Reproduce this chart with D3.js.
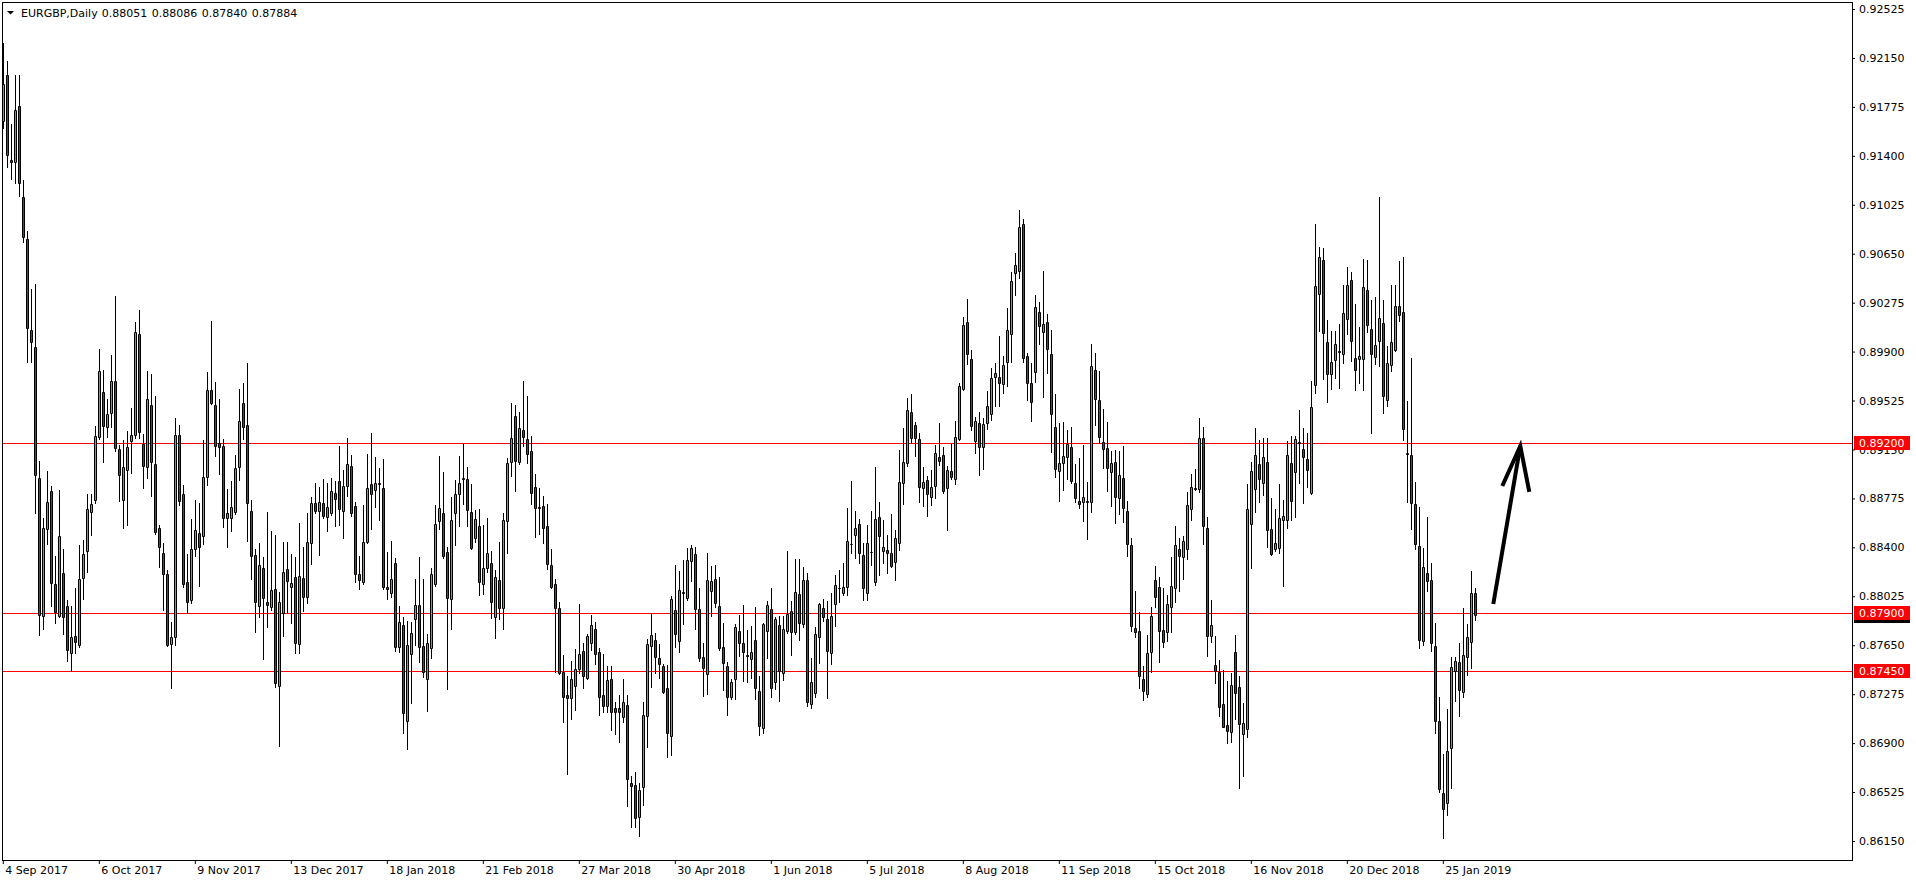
<!DOCTYPE html>
<html><head><meta charset="utf-8">
<script src="https://cdn.jsdelivr.net/npm/d3@7"></script>
<style>html,body{margin:0;padding:0;background:#fff;overflow:hidden}svg{display:block}text{font-family:"DejaVu Sans",sans-serif;font-size:11px}</style>
</head><body>
<svg id="c" width="1916" height="884"></svg>
<script>
const symbol = "EURGBP,Daily";
const lastOHLC = ["0.88051","0.88086","0.87840","0.87884"];
const open = [.91670,.92022,.91366,.91349,.91779,.91082,.90764,.90063,.89933,.88931,.87875,.88542,.88829,.88118,.87875,.88203,.87953,.87588,.87721,.87649,.88169,.88371,.88668,.88760,.89249,.89588,.89321,.89431,.89673,.89150,.88764,.88996,.89212,.89263,.90032,.89195,.89017,.89489,.89037,.88545,.88354,.88193,.87659,.87711,.89259,.88808,.88135,.87994,.88384,.88508,.88490,.88942,.89606,.89491,.89197,.89177,.88628,.88628,.88668,.89013,.89504,.89338,.88679,.88342,.87953,.88239,.87979,.87946,.88079,.87340,.87895,.88232,.88099,.88176,.87657,.88163,.88017,.88431,.88737,.88681,.88737,.88635,.88666,.88814,.88911,.88681,.88870,.89023,.88717,.88193,.88137,.88439,.88886,.88840,.88893,.88852,.88094,.88048,.88278,.87639,.87805,.87072,.87581,.87849,.87959,.87645,.87389,.87627,.88120,.88605,.88661,.88362,.88002,.88661,.88807,.88932,.88922,.88669,.88470,.88567,.88120,.88245,.88278,.87869,.88150,.87938,.88605,.89057,.89409,.89057,.89300,.89228,.89139,.88860,.88707,.88717,.88564,.88265,.88120,.87938,.87448,.87269,.87249,.87341,.87466,.87606,.87402,.87665,.87775,.87596,.87269,.87187,.87392,.87167,.87167,.87098,.87192,.86592,.86579,.86332,.86561,.87110,.87644,.87690,.87550,.87491,.87320,.86957,.87920,.87685,.88048,.88015,.88298,.88349,.87928,.87563,.87427,.88068,.88158,.87951,.87634,.87491,.87251,.87389,.87759,.87670,.87575,.87547,.87690,.87299,.87013,.87762,.87928,.87371,.87805,.87435,.87759,.87912,.87754,.88043,.87810,.88150,.87200,.87287,.87716,.87933,.87851,.87588,.87964,.88090,.88048,.88099,.88426,.88495,.88576,.88341,.88053,.88367,.88137,.88630,.88375,.88380,.88354,.88290,.88431,.88896,.89049,.89434,.89337,.89230,.88857,.88916,.88788,.88873,.89095,.89108,.88852,.88985,.88921,.89228,.89613,.90124,.89843,.89217,.89350,.89171,.89350,.89419,.89708,.89703,.89649,.89823,.90032,.90499,.90520,.90877,.89866,.89662,.89741,.90201,.90053,.90124,.89881,.89325,.88988,.89049,.89095,.89166,.88891,.88758,.88750,.88753,.88745,.89759,.89529,.89205,.89159,.88980,.89051,.88776,.88929,.88679,.88418,.87780,.87759,.87391,.87274,.87596,.88150,.88094,.87767,.87754,.87940,.88086,.88387,.88324,.88385,.88691,.88852,.88845,.89240,.88546,.87721,.87499,.87448,.87200,.87039,.86983,.87601,.87333,.86967,.87008,.88579,.88845,.89039,.88891,.89057,.88543,.88386,.88393,.88609,.88606,.89047,.88975,.89207,.89155,.89080,.88818,.89642,.90339,.90604,.89972,.89727,.89832,.89907,.89881,.90146,.90447,.89851,.89842,.89842,.90375,.90070,.89858,.89982,.90120,.89531,.89796,.89914,.90250,.90201,.89122,.89106,.88730,.88409,.87683,.88200,.88148,.87641,.87072,.86516,.86441,.86866,.87454,.87520,.87291,.87562,.87677,.88051];
const high = [.92261,.92125,.91643,.92022,.92022,.91212,.90822,.90381,.90415,.89065,.88627,.88983,.88873,.88336,.88842,.88388,.87998,.87953,.88090,.88415,.88459,.88808,.88808,.89331,.89919,.89759,.89533,.89875,.90323,.89184,.89225,.89290,.89468,.90128,.90220,.89270,.89748,.89725,.89557,.88569,.88432,.88227,.87827,.89389,.89338,.88877,.88347,.88620,.88764,.88737,.89223,.89746,.90134,.89665,.89537,.89230,.88847,.88909,.89108,.89613,.89662,.89810,.88763,.88388,.88431,.88329,.88668,.88525,.88495,.88056,.88439,.88439,.88347,.88324,.88584,.88405,.88661,.88783,.88896,.88865,.88924,.88896,.88929,.88909,.89177,.88993,.89235,.89108,.88745,.88334,.88725,.89115,.89274,.89090,.89006,.89077,.88362,.88449,.88321,.87951,.87864,.87836,.87831,.88158,.88329,.88158,.87734,.88245,.88725,.89100,.88980,.88401,.88784,.88916,.89100,.89192,.89014,.88886,.88687,.88692,.88572,.88623,.88372,.88227,.88444,.88666,.89082,.89504,.89491,.89435,.89675,.89560,.89254,.88962,.88853,.88794,.88733,.88388,.88158,.87979,.87576,.87415,.87532,.87622,.87966,.87670,.87737,.87882,.87831,.87632,.87583,.87491,.87491,.87218,.87269,.87392,.87269,.86648,.86681,.86592,.87218,.87698,.87895,.87741,.87660,.87506,.87499,.88030,.88265,.88221,.88303,.88398,.88418,.88405,.88086,.87670,.88359,.88257,.88265,.88176,.87818,.87524,.87389,.87813,.87882,.87958,.87767,.87798,.87946,.87414,.87823,.87989,.88086,.87869,.87874,.87874,.88372,.87989,.88311,.88311,.88252,.88206,.87555,.87787,.87976,.88004,.87989,.88053,.88188,.88226,.88278,.88699,.88908,.88681,.88615,.88431,.88571,.88679,.89018,.88745,.88610,.88495,.88656,.88533,.89146,.89312,.89542,.89575,.89358,.89274,.89013,.88949,.88993,.89184,.89350,.89166,.89023,.89192,.89368,.89662,.90167,.90303,.89912,.89401,.89440,.89389,.89598,.89772,.89815,.90022,.89869,.90231,.90512,.90653,.90985,.90913,.89892,.89810,.90333,.90277,.90517,.90188,.90065,.89575,.89355,.89358,.89299,.89320,.89039,.89082,.89184,.88898,.89958,.89887,.89751,.89460,.89358,.89138,.89146,.89138,.89177,.88755,.88469,.88066,.87902,.87491,.87728,.87940,.88257,.88175,.88086,.88035,.88324,.88566,.88469,.88487,.88822,.88962,.89000,.89394,.89325,.88635,.87997,.87723,.87537,.87460,.87379,.87440,.87728,.87417,.87210,.88885,.89057,.89317,.89223,.89235,.89237,.88779,.88691,.88883,.88762,.89214,.89253,.89253,.89456,.89318,.89279,.89678,.90878,.90698,.90692,.90142,.90054,.90054,.90113,.90407,.90545,.90512,.90267,.90087,.90610,.90604,.90299,.90322,.91084,.90293,.89940,.90414,.90414,.90594,.90626,.89524,.89851,.88900,.88707,.88393,.88632,.88282,.87824,.87252,.86817,.87160,.87562,.87562,.87667,.87935,.87814,.88216,.88086];
const low = [.91612,.91314,.91219,.91191,.91092,.90740,.89817,.89817,.88661,.87731,.87776,.88425,.87953,.87824,.87865,.87738,.87526,.87454,.87588,.87636,.88005,.88210,.88494,.88740,.89232,.89051,.89246,.89321,.89140,.88754,.88552,.88569,.88969,.89236,.89236,.88853,.88935,.88791,.88501,.88251,.87919,.87642,.87321,.87653,.88723,.88097,.87899,.87971,.88330,.88107,.88426,.88878,.89499,.89103,.88962,.88559,.88405,.88528,.88656,.88916,.89230,.88451,.88158,.87754,.87869,.87545,.87787,.87920,.87333,.86881,.87723,.87900,.87818,.87593,.87593,.87912,.87971,.88273,.88666,.88342,.88628,.88528,.88648,.88564,.88571,.88474,.88796,.88643,.88137,.88078,.88119,.88431,.88541,.88712,.88610,.88081,.88004,.88022,.87609,.87601,.86980,.86855,.87210,.87652,.87525,.87410,.87149,.87555,.88107,.88541,.88321,.87313,.87775,.88418,.88567,.88733,.88567,.88388,.88444,.88035,.88040,.88214,.87857,.87708,.87851,.87775,.88360,.88947,.88832,.89037,.89177,.89049,.88733,.88482,.88503,.88436,.88232,.88086,.87443,.87430,.87065,.86661,.87083,.87154,.87440,.87325,.87392,.87614,.87504,.87116,.87141,.87141,.87001,.86968,.86912,.87060,.86421,.86260,.86260,.86191,.86426,.86873,.87333,.87440,.87397,.87287,.86796,.86809,.87639,.87601,.87813,.87997,.88145,.87774,.87529,.87261,.87277,.87874,.87946,.87614,.87307,.87116,.87236,.87238,.87568,.87379,.87371,.87397,.87238,.86962,.86975,.87550,.87251,.87315,.87223,.87384,.87746,.87575,.87734,.87690,.87787,.87187,.87172,.87256,.87517,.87838,.87248,.87506,.87800,.87980,.88035,.88035,.88354,.88321,.88283,.87997,.87997,.88265,.88112,.88188,.88283,.88201,.88247,.88150,.88380,.88732,.89023,.89197,.89100,.88750,.88719,.88643,.88724,.88776,.89031,.88819,.88533,.88921,.88885,.89222,.89606,.89802,.89299,.89120,.88954,.89000,.89304,.89376,.89483,.89483,.89585,.89636,.89818,.90333,.90461,.89823,.89529,.89371,.89664,.89955,.89555,.89738,.89128,.88942,.88758,.88839,.88921,.88896,.88745,.88699,.88604,.88464,.88673,.89337,.89197,.89005,.88834,.88719,.88584,.88656,.88592,.88336,.87762,.87716,.87320,.87230,.87256,.87442,.87940,.87519,.87634,.87685,.87749,.87979,.88068,.88155,.88308,.88610,.88842,.88822,.88426,.87568,.87672,.87358,.87110,.87021,.86898,.86911,.87085,.86554,.86651,.86944,.88239,.88668,.88745,.88801,.88403,.88340,.88370,.88360,.88102,.88550,.88606,.88632,.88893,.88740,.88861,.88805,.89580,.90054,.89688,.89515,.89613,.89694,.89623,.89809,.90031,.89825,.89603,.89662,.89606,.90048,.89276,.89802,.89786,.89433,.89482,.89750,.89907,.90136,.89220,.88746,.88543,.88386,.87628,.87651,.88069,.87602,.86974,.86523,.86173,.86353,.86555,.87226,.87105,.87252,.87422,.87477,.87840];
const close = [.91947,.91403,.91349,.91749,.91195,.90781,.90077,.89971,.88955,.87878,.88545,.88747,.88124,.87902,.88487,.87865,.87612,.87711,.87673,.88155,.88347,.88692,.88736,.89253,.89748,.89331,.89424,.89673,.89160,.88955,.89013,.89167,.89263,.90049,.89283,.89024,.89533,.89054,.88514,.88405,.88196,.87653,.87711,.89259,.88757,.88118,.87981,.88384,.88531,.88405,.88937,.89606,.89504,.89179,.89172,.88628,.88661,.88707,.89006,.89368,.89320,.88737,.88336,.87979,.88262,.88010,.87958,.88071,.87358,.87979,.88209,.88145,.88124,.87665,.88181,.88017,.88439,.88737,.88681,.88750,.88643,.88707,.88832,.88768,.88691,.88870,.89039,.88666,.88193,.88150,.88439,.88852,.88806,.88891,.88888,.88099,.88079,.88155,.87639,.87826,.87134,.87649,.87742,.87959,.87639,.87448,.87665,.88194,.88577,.88699,.88334,.88015,.88610,.88807,.88891,.88927,.88687,.88393,.88615,.88138,.88240,.88355,.87984,.88176,.87933,.88610,.89044,.89236,.89065,.89312,.89249,.89116,.88814,.88699,.88699,.88546,.88270,.88099,.87933,.87440,.87256,.87244,.87392,.87468,.87581,.87417,.87721,.87805,.87581,.87256,.87187,.87384,.87141,.87141,.87141,.87213,.86623,.86574,.86324,.86541,.87116,.87660,.87729,.87563,.87504,.87289,.86975,.88004,.87734,.88073,.88055,.88303,.88393,.87928,.87555,.87473,.88150,.88145,.87971,.87626,.87517,.87256,.87366,.87792,.87670,.87601,.87568,.87596,.87320,.87034,.87810,.87958,.87320,.87851,.87455,.87772,.87889,.87749,.88055,.87818,.88150,.87218,.87371,.87734,.87966,.87869,.87609,.87874,.88112,.88085,.88094,.88449,.88428,.88546,.88359,.88086,.88431,.88364,.88615,.88489,.88400,.88359,.88257,.88469,.88898,.89051,.89452,.89240,.89240,.88865,.88898,.88806,.88860,.89120,.89064,.88832,.88993,.88942,.89243,.89636,.90104,.89879,.89332,.89368,.89166,.89343,.89483,.89695,.89738,.89662,.89797,.90065,.90441,.90563,.90852,.89848,.89662,.89516,.90239,.90099,.90109,.89917,.89419,.88998,.89044,.89100,.89189,.88911,.88776,.88730,.88788,.88748,.89790,.89537,.89248,.89151,.89005,.89044,.88783,.88954,.88699,.88423,.87800,.87754,.87414,.87302,.87593,.87874,.88022,.87762,.87672,.87966,.88104,.88418,.88336,.88449,.88725,.88860,.88845,.89240,.88566,.87721,.87805,.87453,.87174,.87026,.86993,.87345,.87282,.87044,.87052,.88694,.88985,.89108,.88921,.89090,.88534,.88347,.88435,.88622,.88638,.89106,.88756,.89233,.89201,.89089,.88991,.89475,.90404,.90626,.90044,.89727,.89819,.89959,.89894,.90195,.90411,.89979,.89760,.89868,.90397,.90103,.89881,.89950,.90159,.89557,.89815,.89976,.90250,.90178,.89305,.89112,.88740,.88429,.87693,.88249,.88141,.87670,.87072,.86549,.86392,.86843,.87487,.87526,.87307,.87579,.87710,.88053,.87884];
const priceTicks = [0.92525,0.92150,0.91775,0.91400,0.91025,0.90650,0.90275,0.89900,0.89525,0.89150,0.88775,0.88400,0.88025,0.87650,0.87275,0.86900,0.86525,0.86150];
const levels = [0.89200,0.87900,0.87450];
const dateLabels = ["4 Sep 2017","6 Oct 2017","9 Nov 2017","13 Dec 2017","18 Jan 2018","21 Feb 2018","27 Mar 2018","30 Apr 2018","1 Jun 2018","5 Jul 2018","8 Aug 2018","11 Sep 2018","15 Oct 2018","16 Nov 2018","20 Dec 2018","25 Jan 2019"];
const dateLabelBars = [0,24,48,72,96,120,144,168,192,216,240,264,288,312,336,360];
const lastPrice = 0.87884;
const arrowTarget = 0.89177;
const arrowStart = 0.87966;

const GREEN = "#32CD32", RED = "#FF0000";
const svg = d3.select("#c");
const L = 2, R = 1852, T = 2, B = 860;
const n = open.length;
const x = d3.scaleBand().domain(d3.range(n)).range([1.3, 1.3 + 4 * n]).padding(0);
const y = d3.scaleLinear().domain([0.8615, 0.92525]).range([841, 9]);

const plot = svg.append("g");
plot.append("defs").append("clipPath").attr("id","clip").append("rect").attr("x",L).attr("y",T).attr("width",R-L).attr("height",B-T);
const g = plot.append("g").attr("clip-path","url(#clip)");

// support/resistance lines
g.selectAll("line.lvl").data(levels).join("line").attr("class","lvl")
  .attr("x1",L).attr("x2",R)
  .attr("y1",d=>Math.round(y(d))+0.5).attr("y2",d=>Math.round(y(d))+0.5)
  .attr("stroke",RED).attr("stroke-width",1);

const idx = d3.range(n);
const cx = i => Math.floor(x(i) + x.bandwidth()/2);
// wicks
g.selectAll("line.wick").data(idx).join("line").attr("class","wick")
  .attr("x1",i=>cx(i)+0.5).attr("x2",i=>cx(i)+0.5)
  .attr("y1",i=>Math.round(y(high[i]))).attr("y2",i=>Math.round(y(low[i]))+1)
  .attr("stroke","#000").attr("stroke-width",1);
// bodies
g.selectAll("path.body").data(idx).join("path").attr("class","body")
  .attr("d",i=>{
    const yt = Math.round(y(Math.max(open[i],close[i]))) + 0.5;
    const yb = Math.round(y(Math.min(open[i],close[i]))) + 0.5;
    const c = cx(i);
    return `M${c-0.5},${yt}H${c+1.5}V${yb}H${c-0.5}Z`;
  })
  .attr("fill",i=>close[i] >= open[i] ? GREEN : RED)
  .attr("stroke","#000").attr("stroke-width",1);

// arrow
const ax0 = x(n-1) + 20, ax1 = x(n-1) + 47;
const ty = y(arrowTarget);
const arrow = g.append("g").attr("stroke","#000").attr("stroke-width",4).attr("fill","none").attr("stroke-linecap","butt");
arrow.append("line").attr("x1",ax0).attr("y1",y(arrowStart)).attr("x2",ax1).attr("y2",ty);
arrow.append("polyline").attr("points",`${ax1-18},${ty+40} ${ax1},${ty} ${ax1+9},${ty+46}`).attr("stroke-linejoin","miter");

// frame
svg.append("rect").attr("x",L+0.5).attr("y",T+0.5).attr("width",R-L).attr("height",B-T)
  .attr("fill","none").attr("stroke","#000").attr("stroke-width",1);

// right axis
const yAxis = d3.axisRight(y).tickValues(priceTicks).tickSize(3).tickPadding(4).tickFormat(d3.format(".5f"));
const ya = svg.append("g").attr("transform",`translate(${R},0)`).call(yAxis);
ya.select(".domain").remove();
ya.selectAll("text").attr("font-family","DejaVu Sans").attr("font-size",11).attr("fill","#000");
ya.selectAll("line").attr("stroke","#000");

// bottom axis
const xAxis = d3.axisBottom(x).tickValues(dateLabelBars).tickSize(4).tickFormat((d,i)=>dateLabels[i]);
const xa = svg.append("g").attr("transform",`translate(0,${B})`).call(xAxis);
xa.select(".domain").remove();
xa.selectAll("text").attr("text-anchor","start").attr("x",2).attr("dy","0.5em").attr("y",8)
  .attr("font-family","DejaVu Sans").attr("font-size",11).attr("fill","#000");
xa.selectAll("line").attr("stroke","#000");

// current price marker (hidden under level tag)
svg.append("rect").attr("x",R+2).attr("y",Math.round(y(lastPrice))-7).attr("width",56).attr("height",15).attr("fill","#000");
// level tags
const tags = svg.selectAll("g.tag").data(levels).join("g").attr("class","tag");
tags.append("rect").attr("x",R+2).attr("y",d=>Math.round(y(d))-7).attr("width",56).attr("height",14).attr("fill",RED);
tags.append("text").attr("x",R+7).attr("y",d=>Math.round(y(d))+4).attr("fill","#fff")
  .attr("font-family","DejaVu Sans").attr("font-size",11).text(d=>d3.format(".5f")(d));

// title
svg.append("path").attr("d","M7,11L14,11L10.5,14.5Z").attr("fill","#000");
const title = svg.append("text").attr("y",17).attr("fill","#000");
title.append("tspan").attr("x",21).text(symbol);
[101.7,151.7,201.7,251.7].forEach((px,i)=>title.append("tspan").attr("x",px).text(lastOHLC[i]));
</script>
</body></html>
